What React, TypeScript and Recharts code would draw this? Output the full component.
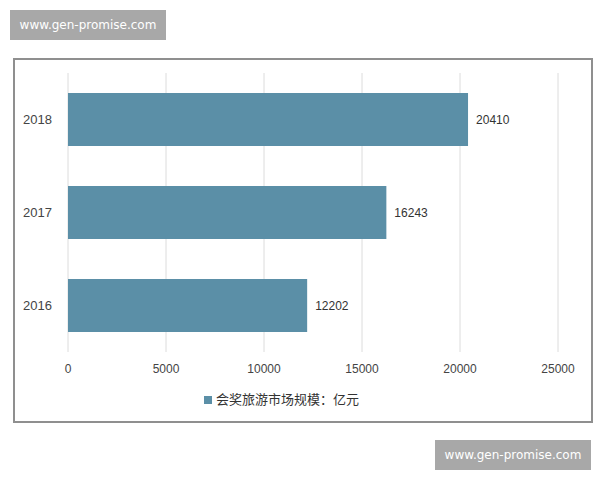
import { BarChart, Bar, XAxis, YAxis, CartesianGrid, Legend, LabelList } from 'recharts';

const years = ['2018', '2017', '2016'];
const marketSize = [20410, 16243, 12202];
const xTicks = [0, 5000, 10000, 15000, 20000, 25000];
const seriesName = '会奖旅游市场规模：亿元';
const watermark = 'www.gen-promise.com';

const data = years.map((year, i) => ({ year, value: marketSize[i] }));

const barColor = '#5b8fa7';
const font = '"Liberation Sans", "Noto Sans CJK SC", Arial, sans-serif';

function Watermark({ left, top }: { left: number; top: number }) {
  return (
    <div
      style={{
        position: 'absolute',
        left,
        top,
        width: 156,
        height: 30,
        background: '#a8a8a8',
        color: '#fff',
        fontFamily: '"DejaVu Sans", sans-serif',
        fontSize: 12,
        lineHeight: '30px',
        textAlign: 'center',
      }}
    >
      {watermark}
    </div>
  );
}

export default function App() {
  return (
    <div style={{ position: 'absolute', left: 0, top: 0, width: 600, height: 480, background: '#fff' }}>
      <Watermark left={10} top={10} />
      <div
        style={{
          position: 'absolute',
          left: 13,
          top: 58,
          width: 576,
          height: 361,
          border: '2px solid #8f8f8f',
          background: '#fff',
        }}
      >
        <BarChart
          width={576}
          height={361}
          data={data}
          layout="vertical"
          margin={{ top: 13, right: 33, left: 0, bottom: 13 }}
          barSize={53}
        >
          <CartesianGrid horizontal={false} stroke="#dcdcdc" />
          <XAxis
            type="number"
            domain={[0, 25000]}
            ticks={xTicks}
            axisLine={false}
            tickLine={false}
            tickMargin={6}
            height={37}
            tick={{ fill: '#444', fontSize: 12, fontFamily: font }}
          />
          <YAxis
            type="category"
            dataKey="year"
            width={53}
            axisLine={false}
            tickLine={false}
            tickMargin={10}
            tick={{ fill: '#444', fontSize: 13, fontFamily: font }}
          />
          <Legend
            verticalAlign="bottom"
            align="center"
            iconType="square"
            iconSize={8}
            formatter={(v: string) => <span style={{ color: '#333', fontSize: 13, fontFamily: font }}>{v}</span>}
          />
          <Bar dataKey="value" name={seriesName} fill={barColor} isAnimationActive={false}>
            <LabelList dataKey="value" position="right" offset={8} fill="#333" fontSize={12} fontFamily={font} />
          </Bar>
        </BarChart>
      </div>
      <Watermark left={435} top={440} />
    </div>
  );
}
